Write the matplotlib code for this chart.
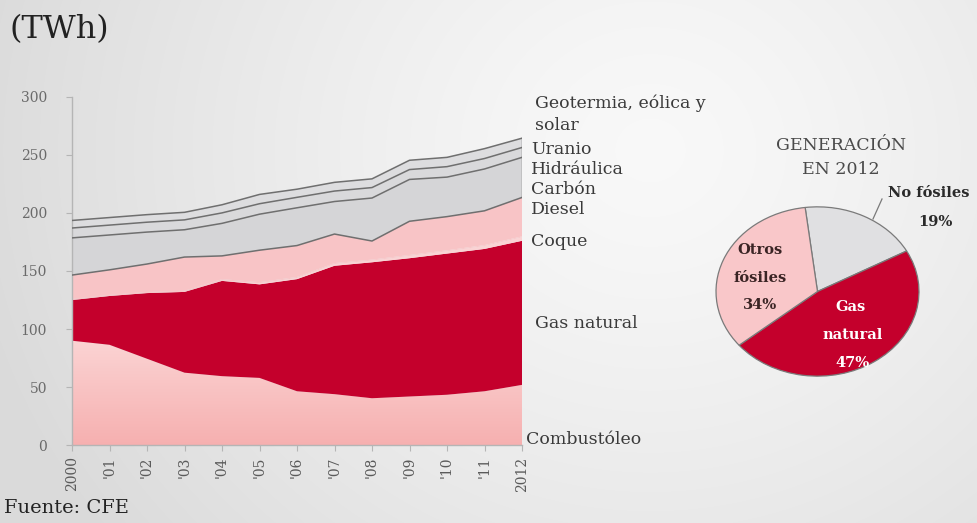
import numpy as np
import matplotlib
matplotlib.use("Agg")
import matplotlib.pyplot as plt
from matplotlib.lines import Line2D

# ---- data (TWh) ----
years = list(range(2000, 2013))
year_labels = ["2000", "'01", "'02", "'03", "'04", "'05", "'06", "'07",
               "'08", "'09", "'10", "'11", "2012"]

combustoleo = [90, 86.5, 74.5, 62.5, 59.5, 58, 46.5, 44, 40.5, 42, 43.5, 46.5, 52]
gas_natural = [35, 42, 56.5, 69.5, 82, 80.5, 96.5, 110.5, 117, 119, 121.5, 122.5, 124]
coque = [0, 0, 0, 0, 0.5, 1, 1, 1.5, 1.5, 2, 2, 2.5, 3]
diesel = [1.0, 1.0, 1.0, 1.0, 1.0, 0.9, 0.9, 0.8, 0.8, 0.8, 0.8, 0.8, 0.8]
carbon = [20.5, 21.5, 24, 29, 20, 27.5, 27, 25, 16, 29, 29, 29.5, 33.5]
hidraulica = [32, 30, 27.5, 23.5, 28, 31, 32.5, 28, 37, 36, 34, 36, 34.5]
uranio = [8.5, 8.5, 8.5, 8.5, 9, 9, 9, 9, 9, 8.5, 9, 9, 8.5]
geotermia = [6.5, 6.5, 6.5, 6.5, 7, 8, 7, 7.5, 7.5, 8, 8, 8.5, 8]

pie_labels = ["No fósiles", "Gas natural", "Otros fósiles"]
pie_values = [19, 47, 34]

W, H = 977, 523
SERIF = "DejaVu Serif"

fig = plt.figure(figsize=(W / 100, H / 100), dpi=100)


def ftext(x, y, s, **kw):
    kw.setdefault("family", SERIF)
    return fig.text(x / W, 1 - y / H, s, **kw)


# ---- soft grey background ----
bg = fig.add_axes([0, 0, 1, 1], zorder=-10)
yy, xx = np.mgrid[0:H, 0:W]
r = np.hypot(xx - 650, (yy - 150) * 1.1) / 700.0
v = 0.975 - 0.12 * np.clip(r, 0, 1) ** 1.3
bg.imshow(np.dstack([v, v, v]), extent=[0, W, H, 0], aspect="auto")
bg.set_xlim(0, W)
bg.set_ylim(H, 0)
bg.axis("off")

# ---- stacked area chart ----
ax = fig.add_axes([72 / W, 1 - 445.3 / H, (522 - 72) / W, (445.3 - 96.7) / H])
ax.patch.set_visible(False)

x = np.array(years, dtype=float)
layers = [combustoleo, gas_natural, coque, diesel, carbon, hidraulica, uranio, geotermia]
cum = np.cumsum(np.array(layers, dtype=float), axis=0)
base = np.vstack([np.zeros(len(years)), cum[:-1]])

# Combustóleo with a vertical pink gradient
poly = ax.fill_between(x, 0, cum[0], facecolor="none", edgecolor="none")
grad = np.linspace(0, 1, 256)[:, None]
c_lo = np.array([0.965, 0.69, 0.69])
c_hi = np.array([0.985, 0.83, 0.83])
gimg = c_lo[None, None, :] * (1 - grad[..., None]) + c_hi[None, None, :] * grad[..., None]
gimg = np.repeat(gimg, 2, axis=1)
im = ax.imshow(gimg, extent=[2000, 2012, 0, max(cum[0])], origin="lower",
               aspect="auto", zorder=1)
im.set_clip_path(poly.get_paths()[0], transform=ax.transData)

colors = [None, "#c4002c", "#fad3d4", "#f8c6c8", "#f8c4c6",
          "#d5d5d7", "#d9d9db", "#dddddf"]
for i in range(1, len(layers)):
    ax.fill_between(x, base[i], cum[i], facecolor=colors[i], edgecolor="none",
                    zorder=2)

line_col = "#6f6f6f"
for i in range(4, len(layers)):
    ax.plot(x, cum[i], color=line_col, lw=1.1, zorder=3)
ax.plot([2012, 2012], [cum[4][-1], cum[-1][-1]], color=line_col, lw=1.0, zorder=3)

ax.set_xlim(2000, 2012)
ax.set_ylim(0, 300)
for s in ["top", "right"]:
    ax.spines[s].set_visible(False)
for s in ["left", "bottom"]:
    ax.spines[s].set_color("#b5b5b5")
    ax.spines[s].set_linewidth(1.0)

ax.set_yticks(range(0, 301, 50))
ax.set_yticklabels([str(t) for t in range(0, 301, 50)], family=SERIF,
                   fontsize=10, color="#6a6a6a")
ax.set_xticks(years)
ax.set_xticklabels(year_labels, family=SERIF, fontsize=10, color="#5a5a5a",
                   rotation=90)
ax.tick_params(axis="y", length=4, color="#b5b5b5", pad=14)
ax.tick_params(axis="x", length=4, color="#b5b5b5", pad=4)

# series names at the right edge
txt_kw = dict(fontsize=12.5, color="#3a3a3a", va="center", ha="left")
ftext(535, 103, "Geotermia, eólica y", **txt_kw)
ftext(535, 126, "solar", **txt_kw)
ftext(531, 149, "Uranio", **txt_kw)
ftext(531, 170, "Hidráulica", **txt_kw)
ftext(531, 190, "Carbón", **txt_kw)
ftext(531, 210, "Diesel", **txt_kw)
ftext(531, 241, "Coque", **txt_kw)
ftext(535, 323, "Gas natural", **txt_kw)
ftext(526, 440, "Combustóleo", **txt_kw)

ftext(9, 30, "(TWh)", fontsize=23, color="#222222", va="center", ha="left")
ftext(4, 508, "Fuente: CFE", fontsize=14, color="#222222", va="center", ha="left")

# ---- pie of 2012 generation ----
pax = fig.add_axes([715 / W, 1 - 377 / H, 205 / W, 171 / H])
pax.pie(pie_values, colors=["#e0e0e2", "#c4002c", "#f9c7c9"], startangle=97,
        counterclock=False,
        wedgeprops=dict(edgecolor="#7a7a7a", linewidth=0.9))
pax.set_aspect("auto")
pax.set_xlim(-1.01, 1.01)
pax.set_ylim(-1.01, 1.01)

ftext(841, 146, "GENERACIÓN", fontsize=12.5, color="#4a4a4a", ha="center", va="center")
ftext(841, 169, "EN 2012", fontsize=12.5, color="#4a4a4a", ha="center", va="center")

bold = dict(fontsize=10.5, fontweight="bold", ha="center", va="center")
ftext(760, 250, "Otros", color="#3a2424", **bold)
ftext(760, 278, "fósiles", color="#3a2424", **bold)
ftext(760, 305, f"{pie_values[2]}%", color="#3a2424", **bold)
ftext(851, 307, "Gas", color="white", **bold)
ftext(853, 335, "natural", color="white", **bold)
ftext(853, 363, f"{pie_values[1]}%", color="white", **bold)
ftext(929, 193, pie_labels[0], color="#2a2a2a", **bold)
ftext(935, 222, f"{pie_values[0]}%", color="#2a2a2a", **bold)
fig.add_artist(Line2D([873 / W, 882 / W], [1 - 219 / H, 1 - 199 / H],
                      transform=fig.transFigure, color="#7a7a7a", lw=0.9))

fig.savefig("out.png", dpi=100)
